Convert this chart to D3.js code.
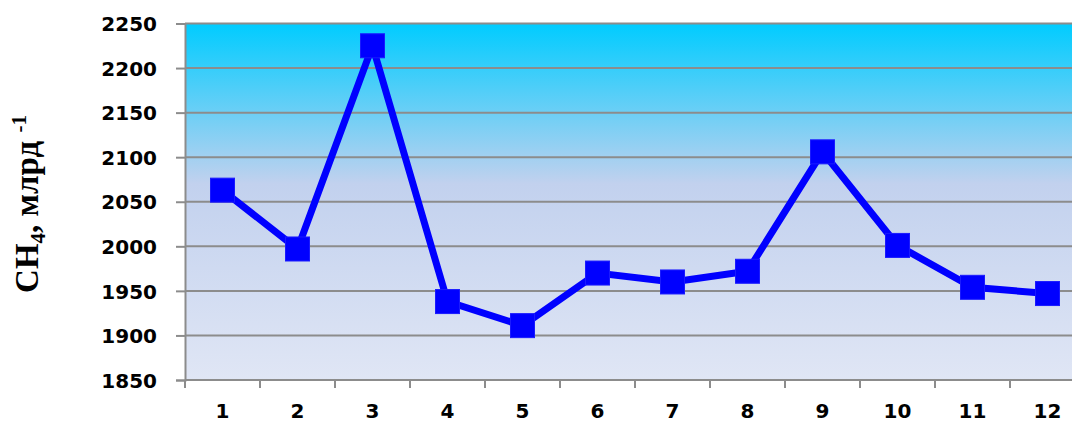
<!DOCTYPE html>
<html>
<head>
<meta charset="utf-8">
<script src="https://cdn.jsdelivr.net/npm/d3@7"></script>
<style>
  body { margin: 0; background: #fff; }
  .tick-label { font-family: "DejaVu Sans", Verdana, sans-serif; font-weight: bold; font-size: 20px; fill: #000; }
  .y-title { font-family: "Liberation Serif", "Times New Roman", serif; font-weight: bold; font-size: 33px; fill: #000; }
</style>
</head>
<body>
<div class="chart"></div>
<script>
'use strict';

// Data
var months = ['1', '2', '3', '4', '5', '6', '7', '8', '9', '10', '11', '12'];
var ch4Values = [2063, 1997, 2225, 1938, 1911, 1970, 1960, 1972, 2106, 2001, 1954, 1947];
var yTicks = [1850, 1900, 1950, 2000, 2050, 2100, 2150, 2200, 2250];

var WIDTH = 1072, HEIGHT = 423;
var margin = { left: 185, top: 23.5, right: -13, bottom: 43 };
var innerW = WIDTH - margin.left - margin.right;
var innerH = HEIGHT - margin.top - margin.bottom;

var svg = d3.select('.chart').append('svg')
  .attr('width', WIDTH)
  .attr('height', HEIGHT);

// background gradient of the plot area
var grad = svg.append('defs').append('linearGradient')
  .attr('id', 'plotBg')
  .attr('x1', 0).attr('y1', 0).attr('x2', 0).attr('y2', 1);
grad.append('stop').attr('offset', '0%').attr('stop-color', '#00ccff');
grad.append('stop').attr('offset', '45%').attr('stop-color', '#c2d1ee');
grad.append('stop').attr('offset', '100%').attr('stop-color', '#e0e6f5');

var g = svg.append('g')
  .attr('transform', 'translate(' + margin.left + ',' + margin.top + ')');

var x = d3.scaleBand().domain(months).range([0, innerW]);
var y = d3.scaleLinear().domain([1850, 2250]).range([innerH, 0]);

g.append('rect')
  .attr('width', innerW)
  .attr('height', innerH)
  .attr('fill', 'url(#plotBg)');

// gridlines
g.selectAll('line.grid')
  .data(yTicks.slice(1))
  .enter().append('line')
  .attr('class', 'grid')
  .attr('x1', 0).attr('x2', innerW)
  .attr('y1', function(d) { return y(d); })
  .attr('y2', function(d) { return y(d); })
  .style('stroke', '#8c8c8c')
  .style('stroke-width', 2);

// y axis
var yAxis = g.append('g')
  .call(d3.axisLeft(y).tickValues(yTicks).tickSize(9).tickPadding(19).tickFormat(d3.format('d')));
yAxis.select('.domain').style('stroke', '#8c8c8c').style('stroke-width', 2);
yAxis.selectAll('.tick line').style('stroke', '#8c8c8c').style('stroke-width', 2);
yAxis.selectAll('.tick text').attr('class', 'tick-label').attr('dy', '0.36em');

// x axis with ticks between categories
var xAxis = g.append('g')
  .attr('transform', 'translate(0,' + innerH + ')');
xAxis.append('line')
  .attr('x1', 0).attr('x2', innerW)
  .style('stroke', '#8c8c8c').style('stroke-width', 2);
xAxis.selectAll('line.xtick')
  .data(months)
  .enter().append('line')
  .attr('class', 'xtick')
  .attr('x1', function(d) { return x(d); })
  .attr('x2', function(d) { return x(d); })
  .attr('y1', 0).attr('y2', 8)
  .style('stroke', '#8c8c8c').style('stroke-width', 2);
xAxis.selectAll('text')
  .data(months)
  .enter().append('text')
  .attr('class', 'tick-label')
  .attr('x', function(d) { return x(d) + x.bandwidth() / 2; })
  .attr('y', 38)
  .attr('text-anchor', 'middle')
  .text(function(d) { return d; });

// y title
var title = svg.append('text')
  .attr('class', 'y-title')
  .attr('transform', 'translate(38,' + 204 + ') rotate(-90)')
  .attr('text-anchor', 'middle');
title.append('tspan').text('CH');
title.append('tspan').attr('font-size', '21px').attr('dy', 7).text('4');
title.append('tspan').attr('dy', -7).text(', млрд ');
title.append('tspan').attr('font-size', '21px').attr('dy', -12).text('-1');

// line + markers
var line = d3.line()
  .x(function(d, i) { return x(months[i]) + x.bandwidth() / 2; })
  .y(function(d) { return y(d); });

g.append('path')
  .datum(ch4Values)
  .attr('d', line)
  .style('fill', 'none')
  .style('stroke', '#0000ff')
  .style('stroke-width', 7)
  .style('stroke-linejoin', 'miter');

var MARKER = 24;
g.selectAll('rect.marker')
  .data(ch4Values)
  .enter().append('rect')
  .attr('class', 'marker')
  .attr('x', function(d, i) { return x(months[i]) + x.bandwidth() / 2 - MARKER / 2; })
  .attr('y', function(d) { return y(d) - MARKER / 2; })
  .attr('width', MARKER)
  .attr('height', MARKER)
  .style('fill', '#0000ff')
  .style('stroke', '#1a1aff')
  .style('stroke-width', 1);
</script>
</body>
</html>
